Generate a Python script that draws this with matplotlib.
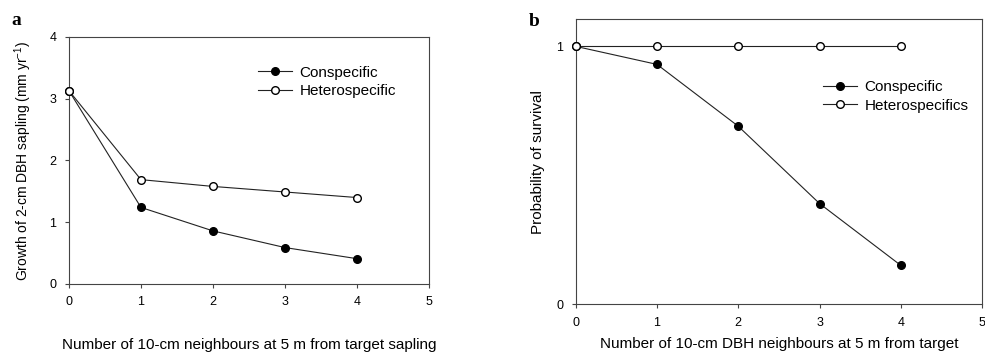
import matplotlib
matplotlib.use("Agg")
import matplotlib.pyplot as plt

plt.rcParams['font.family'] = ['Liberation Sans', 'DejaVu Sans']
plt.rcParams['mathtext.fontset'] = 'custom'
plt.rcParams['mathtext.rm'] = 'Liberation Sans'

# panel a: growth
x_a = [0, 1, 2, 3, 4]
growth_con = [3.13, 1.24, 0.86, 0.59, 0.41]
growth_het = [3.13, 1.69, 1.58, 1.49, 1.40]

# panel b: survival
x_b = [0, 1, 2, 3, 4]
surv_con = [1.0, 0.93, 0.69, 0.39, 0.15]
surv_het = [1.0, 1.0, 1.0, 1.0, 1.0]

fig = plt.figure(figsize=(9.85, 3.53), dpi=100)
ax1 = fig.add_axes([0.070, 0.1955, 0.3655, 0.6997])
ax2 = fig.add_axes([0.5845, 0.1388, 0.4125, 0.8065])

lc = '#222222'
for ax in (ax1, ax2):
    for s in ax.spines.values():
        s.set_color('#444444')
        s.set_linewidth(0.8)
    ax.tick_params(direction='out', length=3, width=0.8, color='#444444',
                   labelsize=9, pad=6)

ax1.plot(x_a, growth_con, color=lc, lw=0.8, marker='o', ms=5.5, mfc='black', mec='black',
         label='Conspecific', zorder=3, clip_on=False)
ax1.plot(x_a, growth_het, color=lc, lw=0.8, marker='o', ms=5.5, mfc='white', mec='black',
         label='Heterospecific', zorder=3, clip_on=False)
ax1.set_xlim(0, 5)
ax1.set_ylim(0, 4)
ax1.set_xticks([0, 1, 2, 3, 4, 5])
ax1.set_yticks([0, 1, 2, 3, 4])
ax1.set_xlabel('Number of 10-cm neighbours at 5 m from target sapling', fontsize=11, labelpad=21)
ax1.set_ylabel('Growth of 2-cm DBH sapling (mm yr$^{-1}$)', fontsize=10, labelpad=11)
ax1.legend(loc='upper left', bbox_to_anchor=(0.488, 0.94), frameon=False, fontsize=11,
           handlelength=2.2, handletextpad=0.5, labelspacing=0.3)

ax2.plot(x_b, surv_con, color=lc, lw=0.8, marker='o', ms=5.5, mfc='black', mec='black',
         label='Conspecific', zorder=3, clip_on=False)
ax2.plot(x_b, surv_het, color=lc, lw=0.8, marker='o', ms=5.5, mfc='white', mec='black',
         label='Heterospecifics', zorder=3, clip_on=False)
ax2.set_xlim(0, 5)
ax2.set_ylim(0, 1.105)
ax2.set_xticks([0, 1, 2, 3, 4, 5])
ax2.set_yticks([0, 1])
ax2.set_xlabel('Number of 10-cm DBH neighbours at 5 m from target', fontsize=11, labelpad=6)
ax2.set_ylabel('Probability of survival', fontsize=11, labelpad=8)
ax2.legend(loc='upper left', bbox_to_anchor=(0.575, 0.835), frameon=False, fontsize=11,
           handlelength=2.2, handletextpad=0.5, labelspacing=0.3)

fig.text(0.012, 0.93, 'a', fontsize=14, fontweight='bold', family='Liberation Serif')
fig.text(0.537, 0.925, 'b', fontsize=14, fontweight='bold', family='Liberation Serif')

fig.savefig('out.png', dpi=100)
